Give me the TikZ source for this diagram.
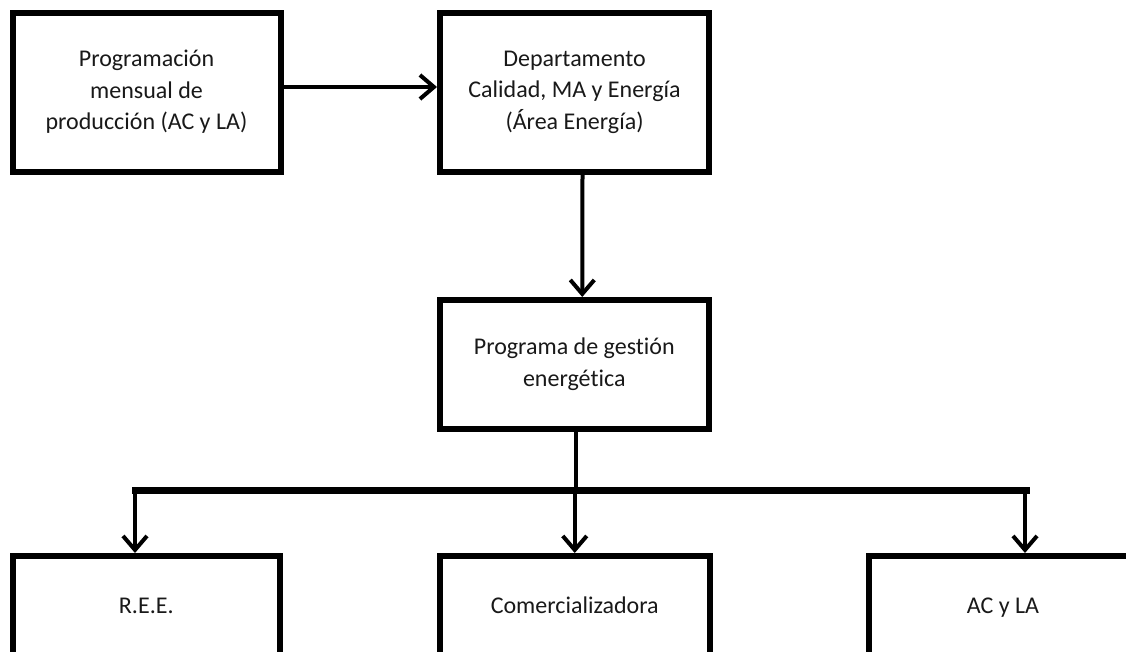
\documentclass[tikz,border=0pt]{standalone}
\usepackage{fontspec}
\setmainfont{Carlito}[Ligatures=NoCommon]
\usetikzlibrary{arrows.meta}
\tikzset{
    % Open barbed arrow tip, as used throughout the chart
    >={Straight Barb[length=14pt,width=24pt]},
%
    % Text setting for every box
    chart font/.style={font=\fontsize{24}{31.5}\selectfont, text=black!90}}

\begin{document}
\begin{tikzpicture}[x=1pt, y=-1pt,
    box/.style={draw, line width=6pt, minimum width=268pt, align=center,
        chart font},
    end box/.style={box, minimum height=104pt, text height=17pt,
        text depth=6pt},
    flow/.style={line width=4pt, ->},
    bus/.style={line width=7pt}]

% Page area; the bottom row runs off the edge
\fill[white] (0,0) rectangle (1126,651);
\path[use as bounding box, clip] (0,0) rectangle (1126,651);


% Top row: planning input and the department
\node[box, minimum height=159pt] at (146.5,92)
    (planning) {Programación\\mensual de\\producción (AC y LA)};
\node[box, minimum width=269pt, minimum height=159pt] at (574.5,92)
    (department) {Departamento\\Calidad, MA y Energía\\(Área Energía)};

\draw[flow] ([yshift=5pt]planning.east) -- ([yshift=5pt]department.west);


% Middle: energy management programme
\node[box, minimum width=268.5pt, minimum height=128.5pt] at (574.25,364.25)
    (program) {Programa de gestión\\energética};

\draw[flow] ([xshift=8pt]department.south) -- ([xshift=8pt]program.north);


% Bottom row: the three recipients
\node[end box, minimum width=267.5pt] at (146.25,608) (ree) {R.E.E.};
\node[end box, minimum width=269.5pt] at (574.75,608)
    (trader) {Comercializadora};
\node[end box] at (1003,608) (plants) {AC y LA};


% Distribution bar and drops
\coordinate (bus w) at (132,490.5);
\coordinate (bus e) at (1030,490.5);
\draw[bus] (bus w) -- (bus e);

\draw[line width=4pt] ([xshift=2pt]program.south)
    -- ([xshift=2pt]program.south |- bus w);
\draw[flow] ([xshift=3pt]bus w) -- ([xshift=3pt]bus w |- ree.north);
\draw[flow] (trader |- bus w) -- (trader.north);
\draw[flow] ([xshift=-5pt]bus e) -- ([xshift=-5pt]bus e |- plants.north);
\end{tikzpicture}
\end{document}
